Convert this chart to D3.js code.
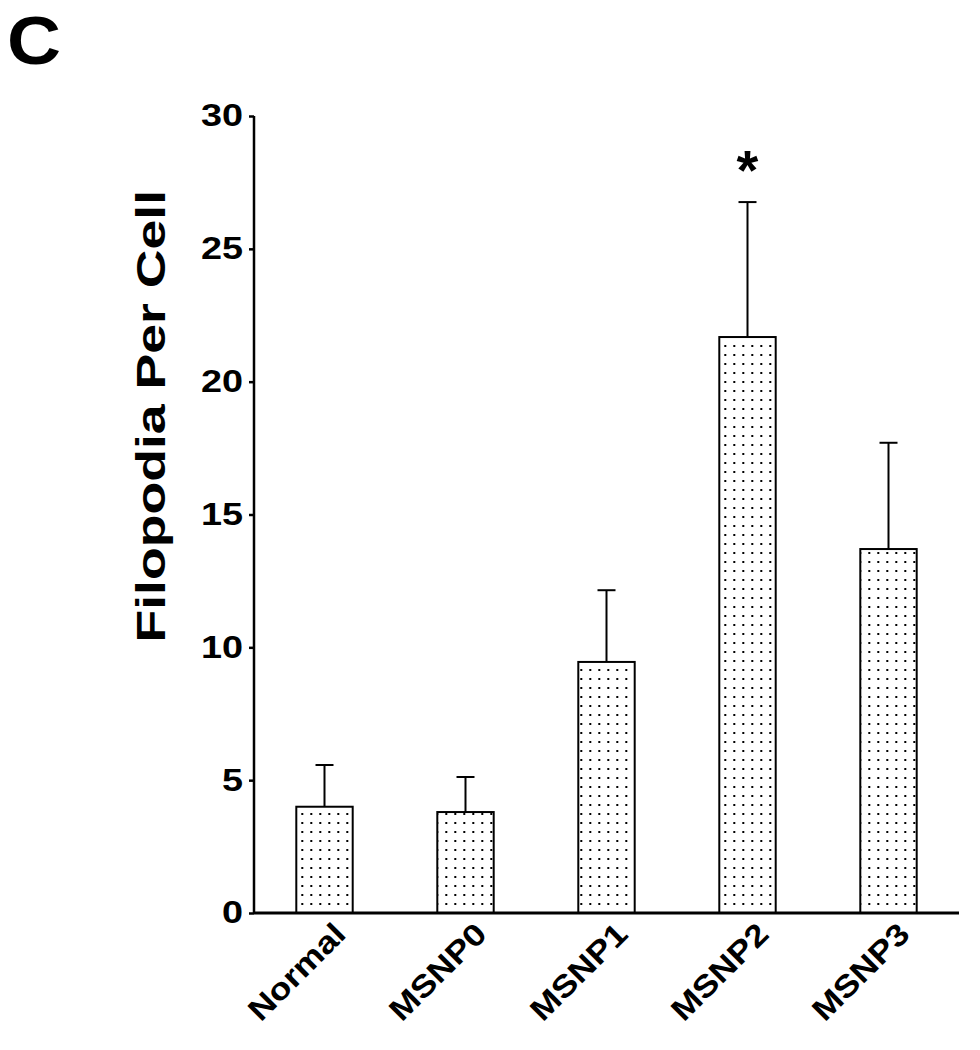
<!DOCTYPE html>
<html>
<head>
<meta charset="utf-8">
<script src="https://cdn.jsdelivr.net/npm/d3@7"></script>
<style>
  html, body { margin: 0; padding: 0; background: #fff; }
  svg { display: block; }
  text { font-family: "Liberation Sans", Arial, Helvetica, sans-serif; font-weight: bold; fill: #000; }
</style>
</head>
<body>
<svg id="chart" width="980" height="1050"></svg>
<script>
const categories = ["Normal", "MSNP0", "MSNP1", "MSNP2", "MSNP3"];
const means = [4.0, 3.8, 9.45, 21.68, 13.7];
const errors = [1.57, 1.32, 2.7, 5.08, 4.0];
const significant = [false, false, false, true, false];
const yTicks = [0, 5, 10, 15, 20, 25, 30];

const svg = d3.select("#chart");
const margin = { left: 254, right: 21, top: 116, bottom: 137 };
const W = 980, H = 1050;

// stretch text horizontally; anchor: 0 = start, 0.5 = middle, 1 = end (relative to x=anchorX)
function stretch(sel, f, anchor, anchorX) {
  sel.each(function () {
    const t = d3.select(this).attr("text-anchor", "start");
    const n = this.getComputedTextLength();
    const L = n * f;
    t.attr("textLength", L).attr("lengthAdjust", "spacingAndGlyphs")
     .attr("x", anchorX - anchor * L);
  });
}

const x = d3.scaleBand().domain(categories)
  .range([margin.left, W - margin.right])
  .paddingInner(0.6).paddingOuter(0.3);
const y = d3.scaleLinear().domain([0, 30]).range([H - margin.bottom, margin.top]);

// dotted pattern
const defs = svg.append("defs");
const pat = defs.append("pattern").attr("id", "dots")
  .attr("patternUnits", "userSpaceOnUse").attr("width", 9).attr("height", 9)
  .attr("x", x(categories[0]) + 2).attr("y", 0);
pat.append("rect").attr("width", 9).attr("height", 9).attr("fill", "#fff");
pat.append("rect").attr("x", 3).attr("y", 3).attr("width", 2).attr("height", 2).attr("fill", "#000");

// panel letter
const letter = svg.append("text").attr("y", 64).attr("font-size", 68).text("C");
stretch(letter, 1.1, 0, 7);

// error bars
const eb = svg.append("g");
categories.forEach((c, i) => {
  const cx = x(c) + x.bandwidth() / 2;
  eb.append("line").attr("x1", cx).attr("x2", cx)
    .attr("y1", y(means[i])).attr("y2", y(means[i] + errors[i]))
    .attr("stroke", "#000").attr("stroke-width", 2);
  eb.append("line").attr("x1", cx - 9).attr("x2", cx + 9)
    .attr("y1", y(means[i] + errors[i])).attr("y2", y(means[i] + errors[i]))
    .attr("stroke", "#000").attr("stroke-width", 2);
  if (significant[i]) {
    svg.append("text").attr("x", cx).attr("y", y(means[i] + errors[i]) - 13)
      .attr("text-anchor", "middle").attr("font-size", 56).text("*");
  }
});

// bars
svg.append("g").selectAll("rect").data(categories).join("rect")
  .attr("x", d => x(d)).attr("width", x.bandwidth())
  .attr("y", (d, i) => y(means[i])).attr("height", (d, i) => y(0) - y(means[i]))
  .attr("fill", "url(#dots)").attr("stroke", "#000").attr("stroke-width", 2);

// y axis
const yAxis = svg.append("g").attr("transform", `translate(${margin.left},0)`)
  .call(d3.axisLeft(y).tickValues(yTicks).tickSize(5).tickPadding(8));
yAxis.select(".domain").attr("stroke", "#000").attr("stroke-width", 2.5).attr("d", `M0,${y(30)}V${y(0)}`);
yAxis.selectAll(".tick line").attr("stroke", "#000").attr("stroke-width", 2.5);
yAxis.selectAll(".tick text").attr("font-size", 31).attr("font-family", "Liberation Sans, Arial, sans-serif").attr("font-weight", "bold").attr("fill", "#000");
stretch(yAxis.selectAll(".tick text"), 1.22, 1, -11);

// x axis
const xAxis = svg.append("g").attr("transform", `translate(0,${y(0)})`)
  .call(d3.axisBottom(x).tickSize(0).tickPadding(0));
xAxis.select(".domain").attr("stroke", "#000").attr("stroke-width", 3)
  .attr("d", `M${margin.left},0H${W - margin.right}`);
xAxis.selectAll(".tick text")
  .attr("font-size", 31).attr("font-family", "Liberation Sans, Arial, sans-serif").attr("font-weight", "bold").attr("fill", "#000")
  .attr("dy", null).attr("y", 0)
  .attr("transform", "translate(23,23) rotate(-45)");
stretch(xAxis.selectAll(".tick text"), 1.15, 1, 0);

// y label (centred above the axis midpoint, as in the original)
const ylab = svg.append("text")
  .attr("transform", `translate(165,${y(18.7)}) rotate(-90)`)
  .attr("font-size", 40).text("Filopodia Per Cell");
stretch(ylab, 1.34, 0.5, 0);
</script>
</body>
</html>
